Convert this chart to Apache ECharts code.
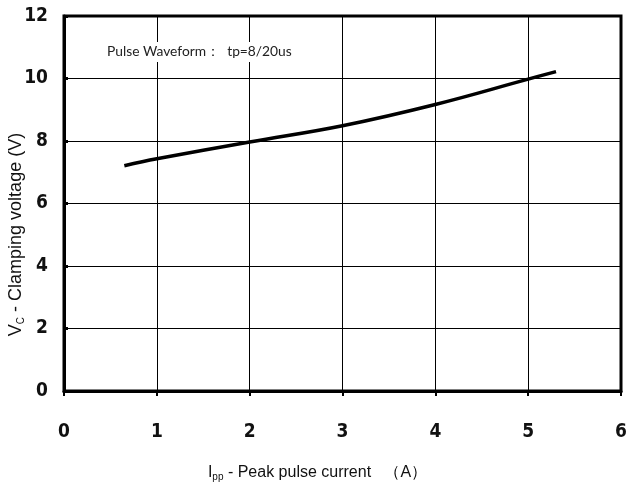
<!DOCTYPE html>
<html><head><meta charset="utf-8">
<script src="https://cdn.jsdelivr.net/npm/echarts@6/dist/echarts.min.js"></script>
<style>html,body{margin:0;padding:0;background:#fff}#c{width:627px;height:488px}</style>
</head><body><div id="c"></div>
<script>
const currentA = [0.65, 1, 2, 3, 4, 5, 5.3];
const clampV = [7.21, 7.43, 7.97, 8.49, 9.17, 9.98, 10.22];
const xTicks = [0, 1, 2, 3, 4, 5, 6];
const yTicks = [0, 2, 4, 6, 8, 10, 12];
const note = 'Pulse Waveform：  tp=8/20us';

const chart = echarts.init(document.getElementById('c'));
const tickFont = {fontFamily: '"DejaVu Sans Condensed","DejaVu Sans",sans-serif', fontWeight: 'bold', fontSize: 19, color: '#111'};
const nameRich = (fs) => ({
  m: {fontFamily: '"Liberation Sans", Arial, sans-serif', fontSize: fs, color: '#111'},
  s: {fontFamily: '"Liberation Sans", Arial, sans-serif', fontSize: 10, color: '#111', verticalAlign: 'bottom', padding: [9, 0, 0, 0]}
});
chart.setOption({
  animation: false,
  backgroundColor: '#fff',
  grid: {left: 64, right: 6, top: 16, bottom: 97, outerBoundsMode: 'none', containLabel: false,
    show: true, borderColor: '#000', borderWidth: 3, backgroundColor: 'transparent'},
  xAxis: {
    type: 'value', min: xTicks[0], max: xTicks[xTicks.length-1], interval: 1,
    axisLine: {onZero: false, lineStyle: {color: '#000', width: 3}},
    axisTick: {show: true, inside: false, length: 5, lineStyle: {color: '#000', width: 2}},
    splitLine: {show: true, lineStyle: {color: '#000', width: 1}},
    axisLabel: Object.assign({margin: 32}, tickFont),
    name: '{m|I}{s|pp}{m| - Peak pulse current   （A）}',
    nameLocation: 'middle', nameGap: 72, nameMoveOverlap: false,
    nameTextStyle: {padding: [0, 50, 0, 0], rich: nameRich(16)}
  },
  yAxis: {
    type: 'value', min: yTicks[0], max: yTicks[yTicks.length-1], interval: 2,
    axisLine: {onZero: false, lineStyle: {color: '#000', width: 3}},
    axisTick: {show: true, inside: true, length: 4, lineStyle: {color: '#000', width: 3}},
    splitLine: {show: true, lineStyle: {color: '#000', width: 1}},
    axisLabel: Object.assign({margin: 16}, tickFont),
    name: '{m|V}{s|C}{m| - Clamping voltage (V)}',
    nameLocation: 'middle', nameGap: 38, nameRotate: 90, nameMoveOverlap: false,
    nameTextStyle: {padding: [0, 62, 0, 0], rich: nameRich(18)}
  },
  series: [{
    type: 'line', smooth: 0.4, showSymbol: false,
    lineStyle: {color: '#000', width: 3.5},
    data: currentA.map((x, i) => [x, clampV[i]]),
    z: 5
  }],
  graphic: [{
    type: 'text', left: 103, top: 42, z: 10,
    style: {text: note, fontFamily: 'Lato,"Open Sans",sans-serif', fontSize: 13.8, fill: '#222',
      backgroundColor: '#fff', padding: [3, 4, 3, 4]}
  }]
});
</script></body></html>
